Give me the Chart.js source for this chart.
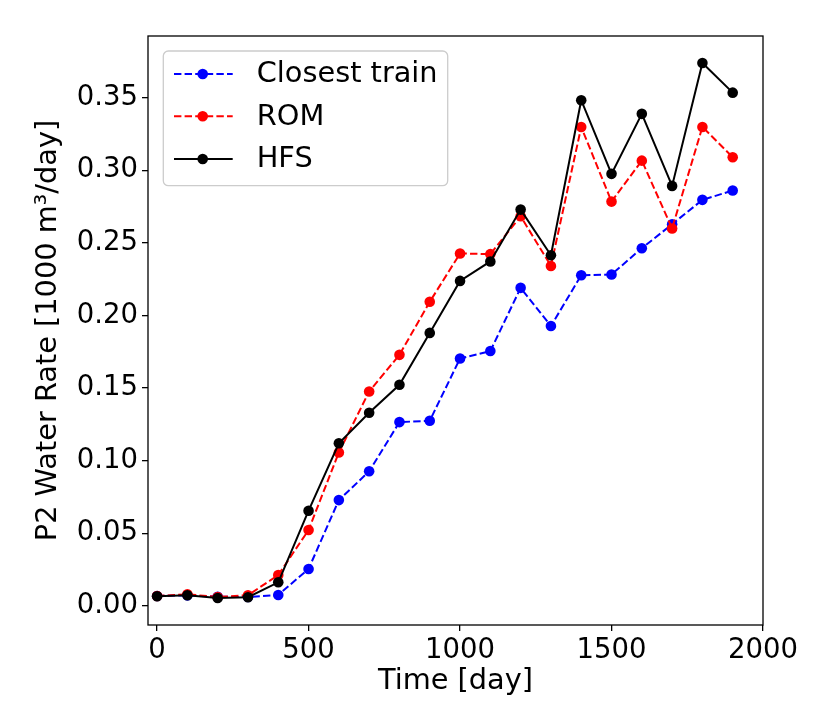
<!DOCTYPE html>
<html>
<head>
<meta charset="utf-8">
<script src="https://cdn.jsdelivr.net/npm/chart.js@4"></script>
<style>
html,body{margin:0;padding:0;background:#fff;}
#wrap{width:830px;height:727px;}
</style>
</head>
<body>
<div id="wrap"><canvas id="c" width="830" height="727"></canvas></div>
<script>
const days = [0,100,200,300,400,500,600,700,800,900,1000,1100,1200,1300,1400,1500,1600,1700,1800,1900];
const closestTrain = [0.0069,0.0073,0.0064,0.0062,0.0076,0.0255,0.0729,0.0927,0.1266,0.1275,0.1704,0.1755,0.2190,0.1927,0.2277,0.2282,0.2463,0.2628,0.2796,0.2860];
const rom = [0.0069,0.0080,0.0062,0.0074,0.0213,0.0523,0.1057,0.1477,0.1729,0.2094,0.2427,0.2422,0.2683,0.2341,0.3298,0.2784,0.3066,0.2599,0.3298,0.3089];
const hfs = [0.0067,0.0074,0.0055,0.0060,0.0163,0.0656,0.1120,0.1330,0.1523,0.1880,0.2238,0.2372,0.2729,0.2415,0.3482,0.2975,0.3388,0.2892,0.3738,0.3534];
const xTicks = [0,500,1000,1500,2000];
const yTicks = [0.00,0.05,0.10,0.15,0.20,0.25,0.30,0.35];
const seriesNames = ['Closest train','ROM','HFS'];

const FONT = 'DejaVu Sans';
const FS_TICK = 27.5;
const FS_LABEL = 28.8;

function pts(vals){ return days.map((d,i)=>({x:d,y:vals[i]})); }

const frame = {
  id:'frame',
  afterDatasetsDraw(chart){
    const {ctx, chartArea:a} = chart;
    ctx.save();
    ctx.strokeStyle = '#000';
    ctx.lineWidth = 1.3;
    ctx.strokeRect(a.left, a.top, a.right-a.left, a.bottom-a.top);
    ctx.restore();
  }
};

const mplLegend = {
  id:'mplLegend',
  afterDraw(chart){
    const {ctx, chartArea:a} = chart;
    const bx = a.left+15.3, by = a.top+15, bw = 284.4, bh = 134.7, r = 5;
    ctx.save();
    ctx.beginPath();
    ctx.moveTo(bx+r,by);
    ctx.arcTo(bx+bw,by,bx+bw,by+bh,r);
    ctx.arcTo(bx+bw,by+bh,bx,by+bh,r);
    ctx.arcTo(bx,by+bh,bx,by,r);
    ctx.arcTo(bx,by,bx+bw,by,r);
    ctx.closePath();
    ctx.fillStyle = 'rgba(255,255,255,0.8)';
    ctx.fill();
    ctx.strokeStyle = '#cccccc';
    ctx.lineWidth = 1.3;
    ctx.stroke();
    const rows = [a.top+38, a.top+80.3, a.top+123];
    chart.data.datasets.forEach((ds,i)=>{
      const y = rows[i];
      ctx.beginPath();
      ctx.setLineDash(ds.borderDash||[]);
      ctx.strokeStyle = ds.borderColor;
      ctx.lineWidth = ds.borderWidth;
      ctx.moveTo(a.left+26,y);
      ctx.lineTo(a.left+84.7,y);
      ctx.stroke();
      ctx.setLineDash([]);
      ctx.beginPath();
      ctx.fillStyle = ds.pointBackgroundColor;
      ctx.arc(a.left+54.7,y,ds.pointRadius,0,Math.PI*2);
      ctx.fill();
      ctx.fillStyle = '#000';
      ctx.font = FS_LABEL+'px "'+FONT+'"';
      ctx.textBaseline = 'middle';
      ctx.textAlign = 'left';
      ctx.fillText(ds.label, a.left+108.7, y+1);
    });
    ctx.restore();
  }
};

const mk = (label, vals, color, dash, order) => ({
  label, data: pts(vals), borderColor: color, backgroundColor: color,
  pointBackgroundColor: color, pointBorderColor: color, pointRadius: 5.3, pointBorderWidth: 0,
  borderWidth: 2, borderDash: dash, tension: 0, order, fill:false
});

new Chart(document.getElementById('c'), {
  type:'line',
  data:{
    datasets:[
      mk(seriesNames[0], closestTrain, '#0000ff', [7.4,3.2], 3),
      mk(seriesNames[1], rom, '#ff0000', [7.4,3.2], 2),
      mk(seriesNames[2], hfs, '#000000', [], 1)
    ]
  },
  options:{
    responsive:false, animation:false, devicePixelRatio:1,
    layout:{padding:{top:36,right:67,left:0,bottom:0}},
    plugins:{legend:{display:false}, tooltip:{enabled:false}},
    scales:{
      x:{
        type:'linear', min:-30, max:2000,
        afterFit(s){ s.height = 102; },
        afterBuildTicks(s){ s.ticks = xTicks.map(v=>({value:v})); },
        grid:{drawOnChartArea:false, drawTicks:true, tickLength:6, tickColor:'#000', lineWidth:1.3},
        border:{display:false},
        ticks:{color:'#000', padding:3, font:{family:FONT,size:FS_TICK}, maxRotation:0, callback:v=>String(v)},
        title:{display:true, text:'Time [day]', color:'#000', font:{family:FONT,size:FS_LABEL}, padding:{top:0,bottom:28}}
      },
      y:{
        type:'linear', min:-0.0131, max:0.3924,
        afterFit(s){ s.width = 148; },
        afterBuildTicks(s){ s.ticks = yTicks.map(v=>({value:v})); },
        grid:{drawOnChartArea:false, drawTicks:true, tickLength:6, tickColor:'#000', lineWidth:1.3},
        border:{display:false},
        ticks:{color:'#000', padding:4, font:{family:FONT,size:FS_TICK}, callback:v=>Number(v).toFixed(2)},
        title:{display:true, text:'P2 Water Rate [1000 m³/day]', color:'#000', font:{family:FONT,size:FS_LABEL}, padding:{top:31,bottom:0}}
      }
    }
  },
  plugins:[frame, mplLegend]
});
</script>
</body>
</html>
